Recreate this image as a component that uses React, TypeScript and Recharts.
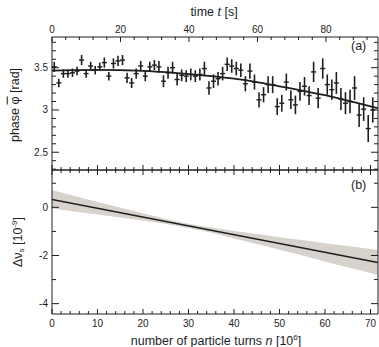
import { ComposedChart, Line, Scatter, ErrorBar, XAxis, YAxis, Area } from "recharts";

const FONT = '"Liberation Sans", Arial, sans-serif';
const INK = "#1e1e1e";

// panel (a): measured phase vs turns (10^6)
const turns = [
  0.5, 1.5, 2.5, 3.5, 4.5, 5.5, 6.5, 7.5, 8.5, 9.5, 10.5, 11.5, 12.5, 13.5, 14.5,
  15.5, 16.5, 17.5, 18.5, 19.5, 20.5, 21.5, 22.5, 23.5, 24.5, 25.5, 26.5, 27.5, 28.5, 29.5,
  30.5, 31.5, 32.5, 33.5, 34.5, 35.5, 36.5, 37.5, 38.5, 39.5, 40.5, 41.5, 42.5, 43.5, 44.5,
  45.5, 46.5, 47.5, 48.5, 49.5, 50.5, 51.5, 52.5, 53.5, 54.5, 55.5, 56.5, 57.5, 58.5, 59.5,
  60.5, 61.5, 62.5, 63.5, 64.5, 65.5, 66.5, 67.5, 68.5, 69.5, 70.5,
];
const phase = [
  3.51, 3.32, 3.43, 3.43, 3.44, 3.46, 3.59, 3.43, 3.52, 3.47, 3.51, 3.56, 3.4, 3.55, 3.58,
  3.59, 3.38, 3.32, 3.43, 3.52, 3.4, 3.51, 3.53, 3.51, 3.34, 3.44, 3.5, 3.36, 3.41, 3.4,
  3.42, 3.4, 3.42, 3.49, 3.26, 3.34, 3.37, 3.43, 3.54, 3.52, 3.49, 3.47, 3.31, 3.46, 3.33,
  3.12, 3.18, 3.3, 3.3, 3.04, 3.08, 3.33, 3.12, 3.06, 3.22, 3.28, 3.17, 3.45, 3.14, 3.49,
  3.3, 3.24, 3.32, 3.13, 3.08, 3.1, 3.26, 2.94, 3.01, 2.78, 3.0,
];
const phaseErr = [
  0.06, 0.05, 0.05, 0.05, 0.05, 0.05, 0.06, 0.05, 0.05, 0.05, 0.05, 0.06, 0.05, 0.06, 0.06,
  0.06, 0.06, 0.06, 0.06, 0.06, 0.06, 0.06, 0.06, 0.07, 0.07, 0.07, 0.07, 0.07, 0.07, 0.07,
  0.07, 0.07, 0.07, 0.08, 0.08, 0.08, 0.08, 0.08, 0.08, 0.08, 0.08, 0.08, 0.09, 0.09, 0.09,
  0.09, 0.09, 0.1, 0.1, 0.1, 0.1, 0.1, 0.11, 0.11, 0.11, 0.11, 0.11, 0.12, 0.12, 0.12,
  0.12, 0.12, 0.13, 0.13, 0.13, 0.14, 0.14, 0.14, 0.14, 0.16, 0.15,
];
const turnErr = 0.55;

const fitTurns = [0, 5, 10, 15, 20, 25, 30, 35, 40, 45, 50, 55, 60, 65, 70, 71.6];
const fitPhase = [3.465, 3.472, 3.475, 3.472, 3.462, 3.447, 3.425, 3.4, 3.37, 3.33, 3.28, 3.23, 3.175, 3.11, 3.043, 3.022];

// panel (b): frequency shift fit with confidence band
const bandTurns = [0, 5, 10, 15, 20, 25, 30, 35, 40, 45, 50, 55, 60, 65, 70, 71.6];
const bandLow = [-0.05, -0.17, -0.3, -0.42, -0.55, -0.69, -0.86, -1.06, -1.29, -1.52, -1.76, -2.0, -2.25, -2.49, -2.73, -2.81];
const bandHigh = [0.71, 0.47, 0.22, -0.01, -0.25, -0.48, -0.68, -0.84, -0.98, -1.11, -1.24, -1.36, -1.49, -1.61, -1.73, -1.77];
const shiftTurns = [0, 71.6];
const shiftFit = [0.33, -2.29];

// axis ranges and ticks
const TURN_MAX = 71.65;
const TIME_MAX = 95.2; // seconds spanned by TURN_MAX turns
const turnTicks = [0, 2, 4, 6, 8, 10, 12, 14, 16, 18, 20, 22, 24, 26, 28, 30, 32, 34, 36, 38, 40, 42, 44, 46, 48, 50, 52, 54, 56, 58, 60, 62, 64, 66, 68, 70];
const timeTicks = [0, 4, 8, 12, 16, 20, 24, 28, 32, 36, 40, 44, 48, 52, 56, 60, 64, 68, 72, 76, 80, 84, 88, 92];
const phaseTicks = [2.3, 2.4, 2.5, 2.6, 2.7, 2.8, 2.9, 3, 3.1, 3.2, 3.3, 3.4, 3.5, 3.6, 3.7, 3.8];
const shiftTicks = [-4, -3, -2, -1, 0, 1];

const points = turns.map((n, i) => ({ n, phi: phase[i], err: phaseErr[i], xerr: turnErr }));
const fitA = fitTurns.map((n, i) => ({ n, t: (n * TIME_MAX) / TURN_MAX, phi: fitPhase[i] }));
const band = bandTurns.map((n, i) => ({ n, range: [bandLow[i], bandHigh[i]] }));
const fitB = shiftTurns.map((n, i) => ({ n, dv: shiftFit[i] }));

type Side = "left" | "right" | "top" | "bottom";
const near = (v: number, step: number) => Math.abs(v / step - Math.round(v / step)) < 1e-6;

function axisTick(side: Side, step: number, minor: number, major: number, labels: boolean) {
  return function Tick(props: any) {
    const { x, y, payload } = props;
    const v = payload.value as number;
    const big = near(v, step);
    const len = big ? major : minor;
    let x2 = x, y2 = y, tx = x, ty = y;
    let anchor: "end" | "middle" = "middle";
    if (side === "left") { x2 = x + len; tx = x - 4; anchor = "end"; }
    if (side === "right") x2 = x - len;
    if (side === "bottom") { y2 = y - len; ty = y + 9; }
    if (side === "top") { y2 = y + len; ty = y - 8; }
    return (
      <g>
        <line x1={x} y1={y} x2={x2} y2={y2} stroke={INK} strokeWidth={1} />
        {labels && big && (
          <text x={tx} y={ty} textAnchor={anchor} dominantBaseline="central" fontSize={10} fill={INK} fontFamily={FONT}>
            {v}
          </text>
        )}
      </g>
    );
  };
}

const tickTime = axisTick("top", 20, 3, 5, true);
const tickTurnsBottom = axisTick("bottom", 10, 3, 5, true);
const tickTurnsUp = axisTick("bottom", 10, 3, 5, false);
const tickTurnsDown = axisTick("top", 10, 3, 5, false);
const tickPhaseL = axisTick("left", 0.5, 4, 7, true);
const tickPhaseR = axisTick("right", 0.5, 4, 7, false);
const tickShiftL = axisTick("left", 2, 4, 7, true);
const tickShiftR = axisTick("right", 2, 4, 7, false);

const axisLine = { stroke: INK, strokeWidth: 1 };
const noDot = () => <g />;

const txt: React.CSSProperties = {
  position: "absolute",
  fontFamily: FONT,
  fontSize: 12.5,
  color: INK,
  whiteSpace: "nowrap",
  lineHeight: 1,
};

const common = {
  tickSize: 0,
  tickMargin: 0,
  tickLine: false,
  axisLine,
  interval: 0 as const,
  allowDataOverflow: true,
  type: "number" as const,
};

export default function App() {
  return (
    <div style={{ position: "absolute", left: 0, top: 0, width: 379, height: 347, background: "#fff" }}>
      <div style={{ position: "absolute", left: 0, top: 0 }}>
        <ComposedChart width={379} height={171} margin={{ top: 36, right: 0, bottom: 0, left: 51 }}>
          <XAxis {...common} dataKey="n" domain={[0, TURN_MAX]} ticks={turnTicks} height={1} tick={tickTurnsUp} />
          <XAxis
            {...common}
            xAxisId="time"
            dataKey="t"
            orientation="top"
            domain={[0, TIME_MAX]}
            ticks={timeTicks}
            height={1}
            tick={tickTime}
          />
          <YAxis {...common} domain={[2.29, 3.863]} ticks={phaseTicks} width={1} tick={tickPhaseL} />
          <YAxis
            {...common}
            yAxisId="r"
            orientation="right"
            domain={[2.29, 3.863]}
            ticks={phaseTicks}
            width={1}
            tick={tickPhaseR}
          />
          {/* same fit drawn against the time axis, invisible: keeps the top axis alive */}
          <Line
            xAxisId="time"
            data={fitA}
            dataKey="phi"
            type="monotone"
            stroke="none"
            dot={false}
            activeDot={false}
            isAnimationActive={false}
          />
          <Line
            data={fitA}
            dataKey="phi"
            type="monotone"
            stroke={INK}
            strokeWidth={1.8}
            dot={false}
            isAnimationActive={false}
          />
          <Scatter data={points} dataKey="phi" shape={noDot} isAnimationActive={false}>
            <ErrorBar dataKey="err" direction="y" width={0} stroke={INK} strokeWidth={1.6} />
            <ErrorBar dataKey="xerr" direction="x" width={0} stroke={INK} strokeWidth={1.4} />
          </Scatter>
        </ComposedChart>
      </div>

      <div style={{ position: "absolute", left: 0, top: 169 }}>
        <ComposedChart width={379} height={178} margin={{ top: 0, right: 0, bottom: 32, left: 51 }}>
          <XAxis {...common} dataKey="n" domain={[0, TURN_MAX]} ticks={turnTicks} height={1} tick={tickTurnsBottom} />
          <XAxis
            {...common}
            xAxisId="top"
            dataKey="n"
            orientation="top"
            domain={[0, TURN_MAX]}
            ticks={turnTicks}
            height={1}
            tick={tickTurnsDown}
          />
          <YAxis {...common} domain={[-4.43, 1.55]} ticks={shiftTicks} width={1} tick={tickShiftL} />
          <YAxis
            {...common}
            yAxisId="r"
            orientation="right"
            domain={[-4.43, 1.55]}
            ticks={shiftTicks}
            width={1}
            tick={tickShiftR}
          />
          <Area
            data={band}
            dataKey="range"
            type="monotone"
            stroke="none"
            fill="#d7d2cc"
            fillOpacity={1}
            isAnimationActive={false}
          />
          <Line
            xAxisId="top"
            data={fitB}
            dataKey="dv"
            type="linear"
            stroke="none"
            dot={false}
            activeDot={false}
            isAnimationActive={false}
          />
          <Line
            data={fitB}
            dataKey="dv"
            type="linear"
            stroke={INK}
            strokeWidth={1.5}
            dot={false}
            isAnimationActive={false}
          />
        </ComposedChart>
      </div>

      <div style={{ ...txt, left: 214, top: 6, transform: "translateX(-50%)" }}>
        time <i>t</i> [s]
      </div>
      <div style={{ ...txt, left: 216, top: 334, transform: "translateX(-50%)" }}>
        number of particle turns <i>n</i> [10<sup style={{ fontSize: 8, verticalAlign: 5 }}>6</sup>]
      </div>
      <div style={{ ...txt, left: 15, top: 105, transform: "translate(-50%, -50%) rotate(-90deg)" }}>
        phase <span style={{ textDecoration: "overline" }}>φ</span> [rad]
      </div>
      <div style={{ ...txt, left: 18, top: 242, transform: "translate(-50%, -50%) rotate(-90deg)" }}>
        Δν<sub style={{ fontSize: 8, verticalAlign: -2 }}>s</sub> [10<sup style={{ fontSize: 8, verticalAlign: 5 }}>-9</sup>]
      </div>
      <div style={{ ...txt, left: 351, top: 40 }}>(a)</div>
      <div style={{ ...txt, left: 351, top: 179 }}>(b)</div>
    </div>
  );
}
